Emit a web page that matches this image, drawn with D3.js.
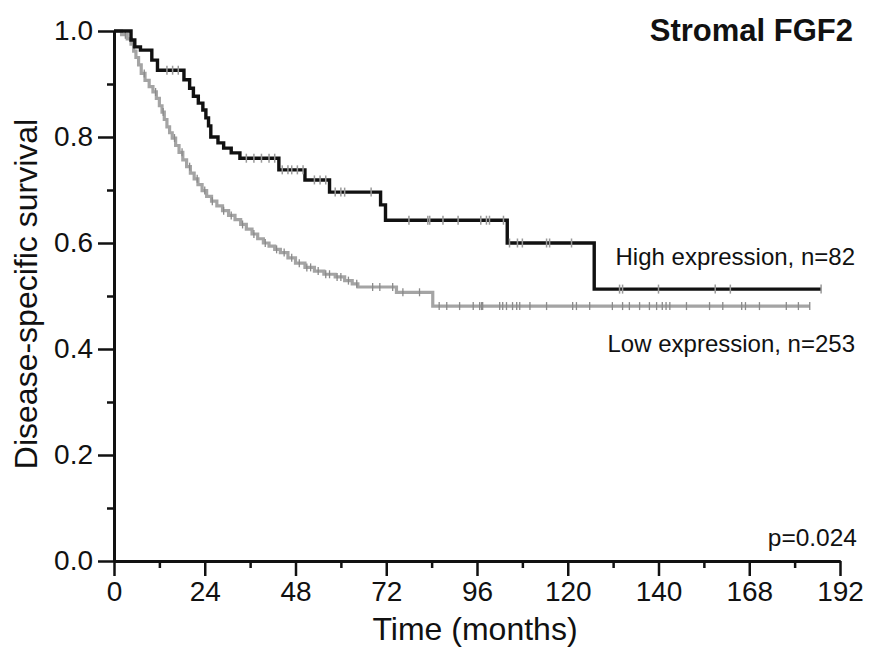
<!DOCTYPE html>
<html>
<head>
<meta charset="utf-8">
<script src="https://cdn.jsdelivr.net/npm/d3@7"></script>
<style>
  body { margin: 0; background: #fff; }
  text { font-family: "Liberation Sans", Arial, Helvetica, sans-serif; fill: #111; }
</style>
</head>
<body>
<div id="container"></div>
<script>
// step times (months) and survival after each step
const highTimes = [0, 4.5, 5.5, 7, 10, 11.5, 18.5, 20, 21, 22.3, 23.5, 24.3, 25, 25.6, 27.5, 29, 31, 33.3, 43.6, 50.5, 57, 70.5, 71.8, 104, 127];
const highSurv  = [1, 0.983, 0.970, 0.964, 0.945, 0.926, 0.908, 0.892, 0.877, 0.864, 0.851, 0.836, 0.821, 0.800, 0.789, 0.779, 0.770, 0.760, 0.738, 0.719, 0.696, 0.672, 0.643, 0.600, 0.513];
const highEnd = 187;
const highCensor = [14, 15.5, 17, 35, 37, 39, 41, 42.5, 44.5, 46, 47, 48.5, 50, 53, 54.5, 56, 58.5, 60, 61, 68, 78, 83, 83.5, 87, 91, 97, 98.5, 99.3, 103, 104.6, 106.7, 108, 114.4, 115.2, 121, 133.7, 134.5, 144, 159, 163, 187];

const lowTimes = [0, 2, 3.5, 4.5, 5.2, 5.8, 6.5, 7.2, 8.2, 9.3, 10.3, 11.2, 12, 12.7, 13.3, 14, 14.7, 15.4, 16.3, 17.2, 18.2, 19.2, 20.2, 21.2, 22.2, 23.3, 24.5, 25.8, 27.2, 28.7, 30.3, 32, 33.5, 35, 36.5, 38, 39.5, 41, 42.5, 44, 46, 48, 50.5, 53, 55.5, 58.5, 61, 63, 64.5, 74.7, 84.3];
const lowSurv  = [1, 0.993, 0.985, 0.975, 0.962, 0.950, 0.936, 0.920, 0.907, 0.895, 0.885, 0.873, 0.859, 0.847, 0.833, 0.819, 0.808, 0.798, 0.784, 0.771, 0.757, 0.744, 0.732, 0.721, 0.710, 0.699, 0.688, 0.679, 0.670, 0.661, 0.652, 0.644, 0.635, 0.626, 0.617, 0.608, 0.600, 0.594, 0.588, 0.582, 0.572, 0.562, 0.554, 0.547, 0.541, 0.536, 0.529, 0.523, 0.517, 0.507, 0.481];
const lowEnd = 184;
const lowCensor = [3, 5, 8, 11, 13, 16, 18, 20, 22, 24, 26, 29, 31, 34, 37, 40, 43, 45, 47, 49, 51, 52, 54, 56, 57, 59, 60, 62, 64.2, 68.4, 70.3, 73.7, 76.4, 80.8, 86, 88, 91.4, 95, 96.7, 97.2, 97.5, 102, 102.8, 103.8, 105.4, 106.5, 107.3, 110, 114.4, 121.3, 122.3, 125.8, 131.8, 134.5, 136.3, 139, 141.6, 143.5, 145, 146, 147, 151.4, 157.5, 161, 166, 167, 170.7, 177.8, 181, 184];

const xTicks = [0, 24, 48, 72, 96, 120, 144, 168, 192];
const xTickLabels = ["0", "24", "48", "72", "96", "120", "140", "168", "192"];
const xMinorTicks = [12, 36, 60, 84, 108, 132, 156, 180];
const yTicks = [0, 0.2, 0.4, 0.6, 0.8, 1.0];
const yMinorTicks = [0.1, 0.3, 0.5, 0.7, 0.9];

const w = 871;
const h = 651;

var xScale = d3.scaleLinear().domain([0, 192]).range([114, 840]);
var yScale = d3.scaleLinear().domain([0, 1]).range([561, 31]);

const svg = d3.select("#container")
              .append("svg")
              .attr("width", w)
              .attr("height", h);

// curves
function stepPoints(times, surv, end) {
  const pts = times.map((t, i) => [t, surv[i]]);
  pts.push([end, surv[surv.length - 1]]);
  return pts;
}
function survAt(times, surv, t) {
  const i = d3.bisectRight(times, t) - 1;
  return surv[Math.max(0, i)];
}
const line = d3.line()
               .x((d) => xScale(d[0]))
               .y((d) => yScale(d[1]))
               .curve(d3.curveStepAfter);

svg.append("path")
   .datum(stepPoints(lowTimes, lowSurv, lowEnd))
   .attr("d", line)
   .attr("fill", "none")
   .attr("stroke", "#a4a4a4")
   .attr("stroke-width", 3.2);

svg.selectAll(".low-censor")
   .data(lowCensor)
   .enter()
   .append("line")
   .attr("class", "low-censor")
   .attr("x1", (d) => xScale(d))
   .attr("x2", (d) => xScale(d))
   .attr("y1", (d) => yScale(survAt(lowTimes, lowSurv, d)) - 4)
   .attr("y2", (d) => yScale(survAt(lowTimes, lowSurv, d)) + 4)
   .attr("stroke", "#8a8a8a")
   .attr("stroke-width", 1.3);

svg.append("path")
   .datum(stepPoints(highTimes, highSurv, highEnd))
   .attr("d", line)
   .attr("fill", "none")
   .attr("stroke", "#111")
   .attr("stroke-width", 3.4);

svg.selectAll(".high-censor")
   .data(highCensor)
   .enter()
   .append("line")
   .attr("class", "high-censor")
   .attr("x1", (d) => xScale(d))
   .attr("x2", (d) => xScale(d))
   .attr("y1", (d) => yScale(survAt(highTimes, highSurv, d)) - 4.5)
   .attr("y2", (d) => yScale(survAt(highTimes, highSurv, d)) + 4.5)
   .attr("stroke", "#999")
   .attr("stroke-width", 1.5);

// axes
const xAxis = d3.axisBottom(xScale)
                .tickValues(xTicks)
                .tickFormat((d, i) => xTickLabels[i])
                .tickSize(15)
                .tickSizeOuter(0)
                .tickPadding(5);
const xMinor = d3.axisBottom(xScale)
                 .tickValues(xMinorTicks)
                 .tickFormat("")
                 .tickSize(7)
                 .tickSizeOuter(0);
const yAxis = d3.axisLeft(yScale)
                .tickValues(yTicks)
                .tickFormat(d3.format(".1f"))
                .tickSize(16)
                .tickSizeOuter(0)
                .tickPadding(5);
const yMinor = d3.axisLeft(yScale)
                 .tickValues(yMinorTicks)
                 .tickFormat("")
                 .tickSize(7)
                 .tickSizeOuter(0);

function styleAxis(g) {
  g.selectAll("path.domain").attr("stroke", "#111").attr("stroke-width", 3);
  g.selectAll(".tick line").attr("stroke", "#111").attr("stroke-width", 2.5);
  g.selectAll(".tick text")
   .attr("font-family", "'Liberation Sans', Arial, sans-serif")
   .attr("font-size", 28)
   .attr("fill", "#111");
}

svg.append("g")
   .attr("id", "x-axis")
   .attr("transform", "translate(0," + yScale(0) + ")")
   .call(xAxis)
   .call(styleAxis);
svg.append("g")
   .attr("transform", "translate(0," + yScale(0) + ")")
   .call(xMinor)
   .call(styleAxis);
svg.append("g")
   .attr("id", "y-axis")
   .attr("transform", "translate(" + xScale(0) + ",0)")
   .call(yAxis)
   .call(styleAxis);
svg.append("g")
   .attr("transform", "translate(" + xScale(0) + ",0)")
   .call(yMinor)
   .call(styleAxis);

// titles and labels
svg.append("text")
   .attr("x", 475)
   .attr("y", 640)
   .attr("text-anchor", "middle")
   .attr("font-size", 32)
   .text("Time (months)");

svg.append("text")
   .attr("transform", "translate(37,294) rotate(-90)")
   .attr("text-anchor", "middle")
   .attr("font-size", 32)
   .text("Disease-specific survival");

svg.append("text")
   .attr("x", 853)
   .attr("y", 41)
   .attr("text-anchor", "end")
   .attr("font-size", 31)
   .attr("font-weight", "bold")
   .text("Stromal FGF2");

svg.append("text")
   .attr("x", 855)
   .attr("y", 265)
   .attr("text-anchor", "end")
   .attr("font-size", 24)
   .text("High expression, n=82");

svg.append("text")
   .attr("x", 855)
   .attr("y", 352)
   .attr("text-anchor", "end")
   .attr("font-size", 24)
   .text("Low expression, n=253");

svg.append("text")
   .attr("x", 857)
   .attr("y", 546)
   .attr("text-anchor", "end")
   .attr("font-size", 24.5)
   .text("p=0.024");
</script>
</body>
</html>
